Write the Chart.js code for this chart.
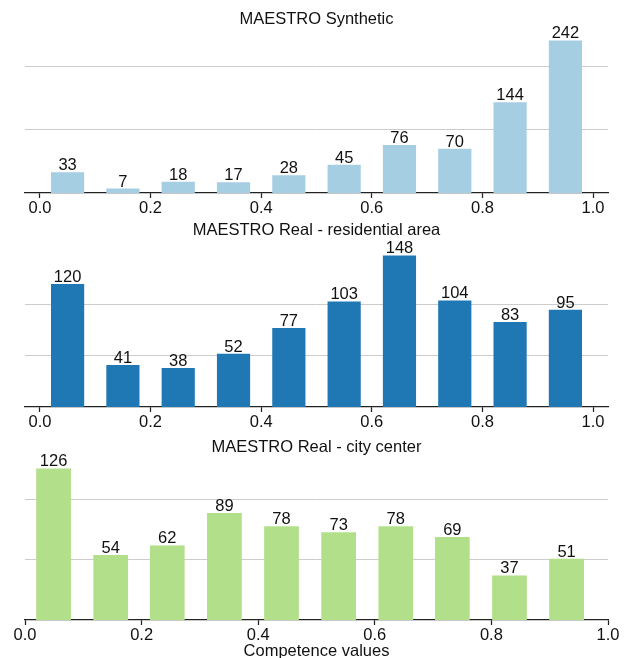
<!DOCTYPE html>
<html>
<head>
<meta charset="utf-8">
<script src="https://cdn.jsdelivr.net/npm/chart.js@4.4.1/dist/chart.umd.min.js"></script>
<style>
  html, body { margin: 0; padding: 0; background: #ffffff; overflow: hidden; width: 629px; height: 658px; }
  canvas { position: absolute; left: 0; }
</style>
</head>
<body>
<canvas id="c1" width="629" height="218" style="top:0px"></canvas>
<canvas id="c2" width="629" height="214" style="top:218px"></canvas>
<canvas id="c3" width="629" height="232" style="top:432px"></canvas>
<script>
// ---- data ----
const titles = ["MAESTRO Synthetic", "MAESTRO Real - residential area", "MAESTRO Real - city center"];
const binCentersA = [0.05, 0.15, 0.25, 0.35, 0.45, 0.55, 0.65, 0.75, 0.85, 0.95];
const binCentersB = [0.049, 0.147, 0.244, 0.342, 0.440, 0.538, 0.636, 0.733, 0.831, 0.929];
const synthetic = [33, 7, 18, 17, 28, 45, 76, 70, 144, 242];
const residential = [120, 41, 38, 52, 77, 103, 148, 104, 83, 95];
const cityCenter = [126, 54, 62, 89, 78, 73, 78, 69, 37, 51];
const xTickValues = [0.0, 0.2, 0.4, 0.6, 0.8, 1.0];
const gridSynthetic = [100, 200];
const gridResidential = [50, 100];
const gridCity = [50, 100];
const xAxisTitle = "Competence values";

// ---- styling ----
const TEXT = '#111111';
const AXIS = '#222222';
const FONT = "'Liberation Sans', Arial, sans-serif";
Chart.defaults.font.family = FONT;
Chart.defaults.font.size = 16.5;
Chart.defaults.color = TEXT;
Chart.defaults.animation = false;

const barLabels = {
  id: 'barLabels',
  afterDatasetsDraw(chart) {
    const ctx = chart.ctx;
    ctx.save();
    ctx.font = "16.5px " + FONT;
    ctx.fillStyle = TEXT;
    ctx.textAlign = 'center';
    ctx.textBaseline = 'alphabetic';
    chart.data.datasets.forEach((ds, di) => {
      chart.getDatasetMeta(di).data.forEach((bar, i) => {
        ctx.fillText(String(ds.data[i].y), bar.x, bar.y - 2);
      });
    });
    ctx.restore();
  }
};

function makeChart(id, cfg) {
  const xs = cfg.xs, ys = cfg.ys;
  const datasets = [{
    data: xs.map((x, i) => ({ x: x, y: ys[i] })),
    backgroundColor: cfg.color,
    borderWidth: 0,
    categoryPercentage: 1.0,
    barPercentage: cfg.barPct
  }];
  const xTitle = cfg.xTitle ? { display: true, text: cfg.xTitle, padding: { top: 0, bottom: 3 }, font: { size: 16.5 }, color: TEXT } : { display: false };
  return new Chart(document.getElementById(id), {
    type: 'bar',
    data: { datasets: datasets },
    plugins: [barLabels],
    options: {
      responsive: false,
      devicePixelRatio: 1,
      layout: { padding: { left: 25, right: 21, top: 0, bottom: 0 } },
      plugins: {
        legend: { display: false },
        tooltip: { enabled: false },
        title: {
          display: true,
          text: cfg.title,
          color: TEXT,
          font: { size: 16.5, weight: 'normal' },
          padding: cfg.titlePad
        }
      },
      scales: {
        x: {
          type: 'linear',
          offset: false,
          min: cfg.xmin,
          max: cfg.xmax,
          afterBuildTicks: s => { s.ticks = xTickValues.map(v => ({ value: v })); },
          ticks: { callback: v => Number(v).toFixed(1), padding: 1, autoSkip: false, maxRotation: 0, color: TEXT },
          grid: { display: true, offset: false, drawOnChartArea: false, drawTicks: true, tickLength: 5, tickColor: AXIS, tickWidth: 1.25 },
          border: { display: true, color: AXIS, width: 1.25 },
          title: xTitle,
          afterFit: s => { s.height = cfg.xh; s.paddingLeft = 0; s.paddingRight = 0; }
        },
        y: {
          min: 0,
          max: cfg.ymax,
          afterBuildTicks: s => { s.ticks = cfg.grid.map(v => ({ value: v })); },
          ticks: { display: false },
          grid: { color: '#cccccc', drawTicks: false, lineWidth: 1 },
          border: { display: false },
          afterFit: s => { s.width = 0; }
        }
      }
    }
  });
}

makeChart('c1', { title: titles[0], xs: binCentersA, ys: synthetic, color: '#a6cee3', barPct: 0.6,
  xmin: -0.027, xmax: 1.027, ymax: Math.max(...synthetic) * 1.05, grid: gridSynthetic,
  titlePad: { top: 10, bottom: 3 }, xh: 25 });
makeChart('c2', { title: titles[1], xs: binCentersA, ys: residential, color: '#1f78b4', barPct: 0.6,
  xmin: -0.027, xmax: 1.027, ymax: Math.max(...residential) * 1.05, grid: gridResidential,
  titlePad: { top: 3, bottom: 7 }, xh: 25 });
makeChart('c3', { title: titles[2], xs: binCentersB, ys: cityCenter, color: '#b2df8a', barPct: 0.614,
  xmin: 0, xmax: 1, ymax: Math.max(...cityCenter) * 1.05, grid: gridCity,
  titlePad: { top: 6, bottom: 3 }, xh: 44, xTitle: xAxisTitle });
</script>
</body>
</html>
